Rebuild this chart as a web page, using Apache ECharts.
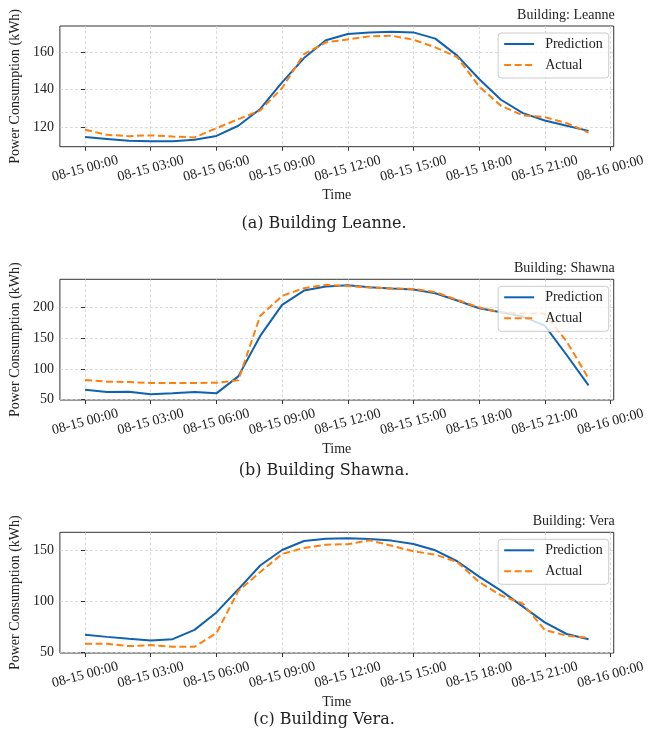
<!DOCTYPE html>
<html>
<head>
<meta charset="utf-8">
<script src="https://cdn.jsdelivr.net/npm/echarts@6/dist/echarts.min.js"></script>
<style>
  html, body { margin: 0; padding: 0; background: #fff; }
  #chart { width: 648px; height: 742px; }
</style>
</head>
<body>
<div id="chart"></div>
<script>
// hourly samples, 08-15 00:00 .. 23:00
var hours = [0, 1, 2, 3, 4, 5, 6, 7, 8, 9, 10, 11, 12, 13, 14, 15, 16, 17, 18, 19, 20, 21, 22, 23];
var tickHours = [0, 3, 6, 9, 12, 15, 18, 21, 24];
var tickLabels = ['08-15 00:00', '08-15 03:00', '08-15 06:00', '08-15 09:00', '08-15 12:00',
  '08-15 15:00', '08-15 18:00', '08-15 21:00', '08-16 00:00'];

var buildings = ['Leanne', 'Shawna', 'Vera'];
var captions = ['(a) Building Leanne.', '(b) Building Shawna.', '(c) Building Vera.'];

var leannePred = [114.9, 113.9, 112.9, 112.7, 112.7, 113.5, 115.5, 120.9, 129.8, 143.9, 156.8, 166.2,
  169.6, 170.4, 170.8, 170.4, 167.1, 158.1, 145.7, 134.7, 127.6, 123.7, 120.9, 118.2];
var leanneActual = [118.8, 116.1, 115.4, 115.8, 115.2, 114.7, 119.6, 124.4, 129.0, 140.9, 158.9, 165.1,
  166.7, 168.3, 168.7, 166.5, 162.5, 157.3, 141.8, 131.5, 126.4, 125.5, 122.3, 117.3];

var shawnaPred = [66.3, 62.5, 63.0, 58.7, 60.3, 62.5, 60.3, 88.0, 153.8, 204.3, 227.7, 234.2,
  236.4, 233.2, 231.0, 229.3, 223.4, 211.4, 198.9, 192.4, 185.3, 170.7, 122.8, 73.4];
var shawnaActual = [82.0, 79.3, 78.8, 77.2, 77.2, 77.2, 77.7, 81.5, 186.4, 219.0, 231.5, 237.0,
  235.0, 232.6, 231.0, 230.4, 225.0, 212.5, 200.0, 192.4, 190.2, 190.2, 144.6, 84.8];

var veraPred = [67.4, 65.4, 63.5, 61.9, 63.2, 72.2, 89.2, 111.7, 134.9, 150.0, 158.7, 160.9,
  161.4, 160.7, 159.1, 155.8, 149.7, 139.0, 124.0, 110.4, 94.8, 79.5, 68.2, 63.0];
var veraActual = [58.7, 58.7, 56.4, 57.4, 55.8, 55.8, 69.0, 110.1, 128.5, 146.1, 151.9, 155.1,
  155.6, 159.4, 154.2, 148.7, 145.5, 138.3, 118.8, 105.8, 97.7, 72.1, 66.6, 64.4];

var predictions = [leannePred, shawnaPred, veraPred];
var actuals = [leanneActual, shawnaActual, veraActual];
var yTicks = [[120, 140, 160], [50, 100, 150, 200], [50, 100, 150]];
var yLimits = [[109.8, 173.8], [49.5, 246], [49.7, 167.2]];

// layout
var font = '"Liberation Serif", "Times New Roman", serif';
var gridTops = [26, 279.3, 532.3];
var gridH = 120.7;
var captionY = [222, 469, 718];
var blue = '#1062b0';
var orange = '#ff7f0e';

var chart = echarts.init(document.getElementById('chart'));

var grids = [], xAxes = [], yAxes = [], titles = [], legends = [], series = [], graphics = [];

function pairs(vals) {
  return hours.map(function (h, j) { return [h, vals[j]]; });
}

for (var i = 0; i < 3; i++) {
  grids.push({
    left: 57.3, right: 32.3, top: gridTops[i], height: gridH,
    show: true, borderColor: '#333', borderWidth: 1
  });
  xAxes.push({
    type: 'value', gridIndex: i, min: -1.15, max: 24.15,
    name: 'Time', nameLocation: 'middle', nameGap: 42,
    nameTextStyle: { fontFamily: font, fontSize: 14, color: '#222' },
    axisLine: { show: false },
    axisTick: { show: true, customValues: tickHours, length: 4, lineStyle: { color: '#333' } },
    axisLabel: {
      customValues: tickHours,
      formatter: function (v) { return tickLabels[tickHours.indexOf(Math.round(v))]; },
      rotate: 15, align: 'center', verticalAlign: 'middle', margin: 22,
      fontFamily: font, fontSize: 14, color: '#222'
    },
    splitLine: { show: true, lineStyle: { color: '#d2d2d2', width: 0.8, type: [3, 2] } }
  });
  yAxes.push({
    type: 'value', gridIndex: i, min: yLimits[i][0], max: yLimits[i][1],
    name: 'Power Consumption (kWh)', nameLocation: 'middle', nameGap: 34,
    nameTextStyle: { fontFamily: font, fontSize: 14, color: '#222' },
    axisLine: { show: false },
    axisTick: { show: true, customValues: yTicks[i], length: 4, lineStyle: { color: '#333' } },
    axisLabel: { customValues: yTicks[i], margin: 6, fontFamily: font, fontSize: 14, color: '#222' },
    splitLine: { show: true, lineStyle: { color: '#d2d2d2', width: 0.8, type: [3, 2] } }
  });
  titles.push({
    text: 'Building: ' + buildings[i], right: 33.3, top: gridTops[i] - 18, padding: 0,
    textStyle: { fontFamily: font, fontSize: 14, fontWeight: 'normal', color: '#222' }
  });
  legends.push({
    data: ['Prediction', 'Actual'], orient: 'vertical', right: 39.3, top: gridTops[i] + 7,
    itemWidth: 30, itemHeight: 14, itemGap: 7, padding: [4, 6, 6, 5],
    backgroundColor: 'rgba(255,255,255,0.8)', borderColor: '#cccccc', borderWidth: 1, borderRadius: 3,
    selectedMode: false,
    itemStyle: { opacity: 0 },
    textStyle: { fontFamily: font, fontSize: 14, color: '#222', padding: [0, 0, 0, 6] }
  });
  series.push({
    type: 'line', name: 'Prediction', xAxisIndex: i, yAxisIndex: i,
    data: pairs(predictions[i]), symbol: 'none', showSymbol: false,
    lineStyle: { color: blue, width: 2 }, itemStyle: { color: blue }
  });
  series.push({
    type: 'line', name: 'Actual', xAxisIndex: i, yAxisIndex: i,
    data: pairs(actuals[i]), symbol: 'none', showSymbol: false,
    lineStyle: { color: orange, width: 2, type: [7, 3.5] }, itemStyle: { color: orange }
  });
  graphics.push({
    type: 'text', left: 'center', top: captionY[i] - 6,
    style: { text: captions[i], font: '16px "DejaVu Serif", serif', fill: '#222' }
  });
}

var option = {
  animation: false,
  backgroundColor: '#fff',
  title: titles,
  legend: legends,
  grid: grids,
  xAxis: xAxes,
  yAxis: yAxes,
  series: series,
  graphic: graphics
};

chart.setOption(option);
</script>
</body>
</html>
